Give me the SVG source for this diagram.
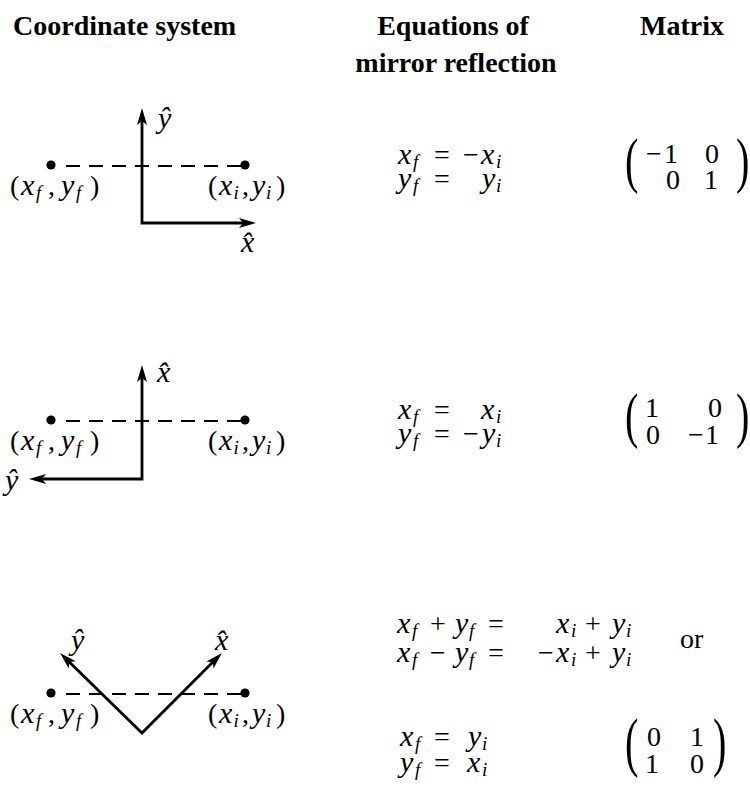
<svg xmlns="http://www.w3.org/2000/svg" width="750" height="787" viewBox="0 0 750 787">
<style>
.h{font-family:"Liberation Serif","Times New Roman",serif;font-weight:bold;font-size:28px;fill:#000}
.m{font-family:"Liberation Serif","Times New Roman",serif;font-size:28px;fill:#000}
.i{font-style:italic;font-size:30px}
.s{font-style:italic;font-size:19px}
.p{font-family:"Liberation Serif","Times New Roman",serif;font-size:62px;fill:#000}
.ax{fill:none;stroke:#000;stroke-width:2.8;stroke-linejoin:miter}
.ds{fill:none;stroke:#000;stroke-width:2.2;stroke-dasharray:14 9}
.dot{fill:#000}
</style>
<defs>
<marker id="ah" markerUnits="userSpaceOnUse" viewBox="-8 -6 19 12" refX="0" refY="0" markerWidth="19" markerHeight="12" orient="auto-start-reverse" overflow="visible">
<path d="M10,0 L-7,-5 L-3,0 L-7,5 Z" fill="#000"/>
</marker>
</defs>

<g id="headers">
<text class="h" x="13" y="35">Coordinate system</text>
<text class="h" x="453" y="35" text-anchor="middle">Equations of</text>
<text class="h" x="456" y="72" text-anchor="middle">mirror reflection</text>
<text class="h" x="682" y="35" text-anchor="middle">Matrix</text>
</g>

<g id="connectors">
<path class="ax" d="M142,118 V223 H246" marker-start="url(#ah)" marker-end="url(#ah)"/>
<path class="ax" d="M142,375 V479 H39" marker-start="url(#ah)" marker-end="url(#ah)"/>
<path class="ax" d="M67.2,660 L142,733 L214.9,660.1" marker-start="url(#ah)" marker-end="url(#ah)"/>
<line class="ds" x1="66" y1="166" x2="245" y2="166"/>
<line class="ds" x1="66" y1="421" x2="245" y2="421"/>
<line class="ds" x1="66" y1="694" x2="245" y2="694"/>
</g>

<g id="row1-diagram">
<circle class="dot" cx="51" cy="165" r="4.6"/>
<circle class="dot" cx="245" cy="165" r="4.6"/>
<text class="m" y="195"><tspan x="10">(</tspan><tspan class="i" x="21">x</tspan><tspan class="s" x="36" dy="4">f</tspan><tspan x="48" dy="-4">,</tspan><tspan class="i" x="61">y</tspan><tspan class="s" x="76" dy="4">f</tspan><tspan x="90" dy="-4">)</tspan></text>
<text class="m" y="195"><tspan x="208">(</tspan><tspan class="i" x="219">x</tspan><tspan class="s" x="233.5" dy="4">i</tspan><tspan x="242" dy="-4">,</tspan><tspan class="i" x="252">y</tspan><tspan class="s" x="266" dy="4">i</tspan><tspan x="276" dy="-4">)</tspan></text>
<text class="m i" x="158" y="128">ŷ</text>
<text class="m i" x="241" y="252">x̂</text>
</g>

<g id="row1-equations">
<text class="m" y="164"><tspan class="i" x="398">x</tspan><tspan class="s" x="413" dy="4">f</tspan><tspan x="434" dy="-4">=</tspan><tspan x="463">−</tspan><tspan class="i" x="481">x</tspan><tspan class="s" x="496" dy="4">i</tspan></text>
<text class="m" y="188"><tspan class="i" x="398">y</tspan><tspan class="s" x="413" dy="4">f</tspan><tspan x="434" dy="-4">=</tspan><tspan class="i" x="482">y</tspan><tspan class="s" x="496" dy="4">i</tspan></text>
</g>

<g id="row1-matrix">
<text class="p" transform="translate(625,181) scale(0.65,1)">(</text>
<text class="m" y="163"><tspan x="646">−</tspan><tspan x="664">1</tspan><tspan x="705">0</tspan></text>
<text class="m" y="189"><tspan x="666">0</tspan><tspan x="704">1</tspan></text>
<text class="p" transform="translate(736,181) scale(0.65,1)">)</text>
</g>

<g id="row2-diagram">
<circle class="dot" cx="51" cy="420" r="4.6"/>
<circle class="dot" cx="245" cy="420" r="4.6"/>
<text class="m" y="450"><tspan x="10">(</tspan><tspan class="i" x="21">x</tspan><tspan class="s" x="36" dy="4">f</tspan><tspan x="48" dy="-4">,</tspan><tspan class="i" x="61">y</tspan><tspan class="s" x="76" dy="4">f</tspan><tspan x="90" dy="-4">)</tspan></text>
<text class="m" y="450"><tspan x="208">(</tspan><tspan class="i" x="219">x</tspan><tspan class="s" x="233.5" dy="4">i</tspan><tspan x="242" dy="-4">,</tspan><tspan class="i" x="252">y</tspan><tspan class="s" x="266" dy="4">i</tspan><tspan x="276" dy="-4">)</tspan></text>
<text class="m i" x="157" y="382">x̂</text>
<text class="m i" x="5" y="490">ŷ</text>
</g>

<g id="row2-equations">
<text class="m" y="419"><tspan class="i" x="398">x</tspan><tspan class="s" x="413" dy="4">f</tspan><tspan x="434" dy="-4">=</tspan><tspan class="i" x="481">x</tspan><tspan class="s" x="496" dy="4">i</tspan></text>
<text class="m" y="443"><tspan class="i" x="398">y</tspan><tspan class="s" x="413" dy="4">f</tspan><tspan x="434" dy="-4">=</tspan><tspan x="463">−</tspan><tspan class="i" x="482">y</tspan><tspan class="s" x="496" dy="4">i</tspan></text>
</g>

<g id="row2-matrix">
<text class="p" transform="translate(625,436) scale(0.65,1)">(</text>
<text class="m" y="417"><tspan x="645">1</tspan><tspan x="708">0</tspan></text>
<text class="m" y="444"><tspan x="646">0</tspan><tspan x="688">−</tspan><tspan x="705">1</tspan></text>
<text class="p" transform="translate(736,436) scale(0.65,1)">)</text>
</g>

<g id="row3-diagram">
<circle class="dot" cx="51" cy="693" r="4.6"/>
<circle class="dot" cx="245" cy="693" r="4.6"/>
<text class="m" y="723"><tspan x="10">(</tspan><tspan class="i" x="21">x</tspan><tspan class="s" x="36" dy="4">f</tspan><tspan x="48" dy="-4">,</tspan><tspan class="i" x="61">y</tspan><tspan class="s" x="76" dy="4">f</tspan><tspan x="90" dy="-4">)</tspan></text>
<text class="m" y="723"><tspan x="208">(</tspan><tspan class="i" x="219">x</tspan><tspan class="s" x="233.5" dy="4">i</tspan><tspan x="242" dy="-4">,</tspan><tspan class="i" x="252">y</tspan><tspan class="s" x="266" dy="4">i</tspan><tspan x="276" dy="-4">)</tspan></text>
<text class="m i" x="71" y="650">ŷ</text>
<text class="m i" x="215" y="650">x̂</text>
</g>

<g id="row3-equations">
<text class="m" y="633"><tspan class="i" x="397">x</tspan><tspan class="s" x="412" dy="4">f</tspan><tspan x="430" dy="-4">+</tspan><tspan class="i" x="455">y</tspan><tspan class="s" x="469" dy="4">f</tspan><tspan x="488" dy="-4">=</tspan><tspan class="i" x="556">x</tspan><tspan class="s" x="571" dy="4">i</tspan><tspan x="585" dy="-4">+</tspan><tspan class="i" x="612">y</tspan><tspan class="s" x="626" dy="4">i</tspan></text>
<text class="m" y="662"><tspan class="i" x="397">x</tspan><tspan class="s" x="412" dy="4">f</tspan><tspan x="430" dy="-4">−</tspan><tspan class="i" x="455">y</tspan><tspan class="s" x="469" dy="4">f</tspan><tspan x="488" dy="-4">=</tspan><tspan x="538">−</tspan><tspan class="i" x="556">x</tspan><tspan class="s" x="571" dy="4">i</tspan><tspan x="585" dy="-4">+</tspan><tspan class="i" x="612">y</tspan><tspan class="s" x="626" dy="4">i</tspan></text>
<text class="m" x="680" y="648">or</text>
<text class="m" y="746"><tspan class="i" x="400">x</tspan><tspan class="s" x="415" dy="4">f</tspan><tspan x="434" dy="-4">=</tspan><tspan class="i" x="468">y</tspan><tspan class="s" x="482" dy="4">i</tspan></text>
<text class="m" y="772"><tspan class="i" x="400">y</tspan><tspan class="s" x="415" dy="4">f</tspan><tspan x="434" dy="-4">=</tspan><tspan class="i" x="467">x</tspan><tspan class="s" x="482" dy="4">i</tspan></text>
</g>

<g id="row3-matrix">
<text class="p" transform="translate(625,764) scale(0.65,1.05)">(</text>
<text class="m" y="746"><tspan x="647">0</tspan><tspan x="690">1</tspan></text>
<text class="m" y="773"><tspan x="645">1</tspan><tspan x="690">0</tspan></text>
<text class="p" transform="translate(713,764) scale(0.65,1.05)">)</text>
</g>
</svg>
